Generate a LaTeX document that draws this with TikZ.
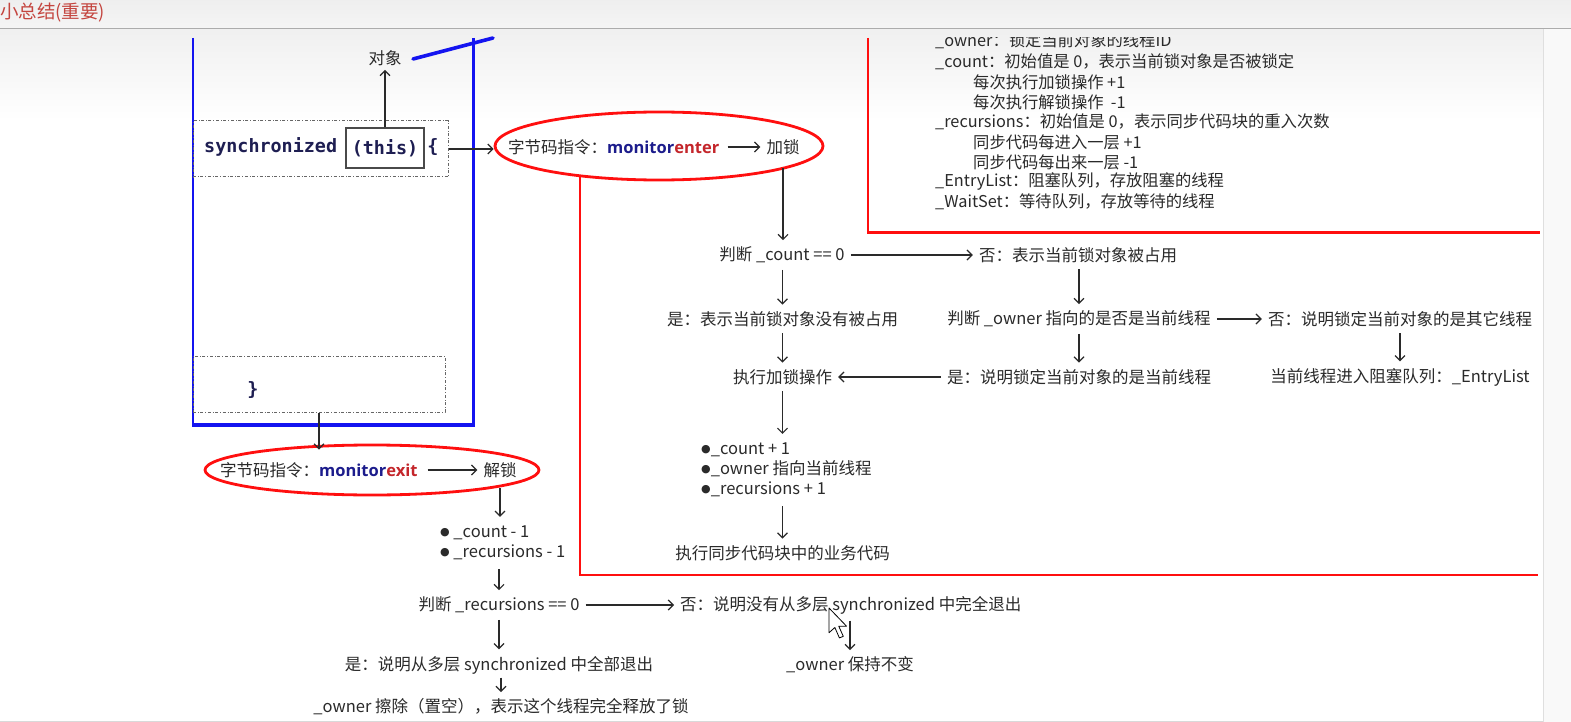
\documentclass[tikz,border=0pt]{standalone}
\usepackage{fontspec}
\setmainfont{Noto Sans CJK SC}
\newfontfamily\codefont{DejaVu Sans Mono}
\newfontfamily\latinbold{Open Sans}
\newfontfamily\dejavu{DejaVu Sans}
\newcommand\bdot{\raisebox{2.2pt}{\dejavu\fontsize{11}{11}\selectfont ●}}
\usetikzlibrary{arrows.meta,shapes.geometric}
\definecolor{txt}{HTML}{2A2A2A}
\definecolor{redl}{HTML}{FF0F0F}
\definecolor{bluel}{HTML}{1414F0}
\definecolor{navy}{HTML}{1C1C8C}
\definecolor{ered}{HTML}{C4262B}
\definecolor{codec}{HTML}{1E1E52}
\definecolor{titlec}{HTML}{C4453F}
\begin{document}
\begin{tikzpicture}[x=1pt,y=-1pt,
 lbl/.style={inner xsep=6pt, inner ysep=6.5pt, text=txt, font=\fontsize{16.5}{19.5}\selectfont},
 memo/.style={inner sep=0pt, anchor=west, text=txt, font=\fontsize{16.3}{19}\selectfont},
 bul/.style={inner xsep=0pt, inner ysep=9pt, anchor=west, align=left, text=txt, font=\fontsize{16.5}{19.8}\selectfont},
 arr/.style={draw=txt, line width=1.2pt, -{Straight Barb[length=5pt,width=10pt]}},
 redstroke/.style={draw=redl, line width=2.8pt},
 bluestroke/.style={draw=bluel, line width=3.6pt},
 codebox/.style={draw=black!60, dash dot, line width=1pt, inner sep=0pt},
 codetxt/.style={inner sep=0pt, text=codec, font=\codefont\bfseries\fontsize{18.4}{20}\selectfont},
 redell/.style={ellipse, draw=redl, line width=2.8pt, inner sep=0pt}
]
\useasboundingbox (0,0) rectangle (1571,722);
% window background
\fill[white] (0,0) rectangle (1571,722);
\shade[top color=gray!13, bottom color=gray!8] (0,0) rectangle (1571,28);
\draw[gray!65, line width=1.5pt] (0,28.5) -- (1571,28.5);
\shade[top color=gray!12, bottom color=white] (0,29.3) rectangle (1543,120);
\fill[gray!5] (1544,29.3) rectangle (1571,722);
\draw[gray!25, line width=1.5pt] (1543.5,29.3) -- (1543.5,722);
\draw[gray!30, line width=1pt] (0,721.5) -- (1543,721.5);
\node[anchor=west, inner sep=0pt, text=titlec, font=\fontsize{18.5}{20}\selectfont] (title) at (0,13) {小总结(重要)};

% blue frame
\draw[draw=bluel, line width=2pt] (193,38) -- (193,425);
\draw[bluestroke] (473.5,38) -- (473.5,425) -- (192,425);
\draw[bluestroke, line cap=round] (413,59) -- (493,38);

% code blocks
\node[codebox, minimum width=255pt, minimum height=56pt] (blk1) at (320.5,149) {};
\node[codebox, minimum width=252pt, minimum height=56pt] (blk2) at (319,384) {};
\node[codetxt, anchor=west] (sync) at (204,147) {synchronized};
\node[codetxt, draw=txt!85, line width=1.1pt, minimum width=78pt, minimum height=40pt] (this) at (385,148) {(this)};
\node[codetxt] (brace) at (433,147) {\{};
\node[codetxt] (closebr) at (253,390) {\}};
\node[lbl, inner ysep=4pt] (obj) at (385,58) {对象};

% top-right notes
\begin{scope}
\clip (0,38) rectangle (1543,722);
\node[memo] (n1) at (935,41) {\_owner：锁定当前对象的线程ID};
\end{scope}
\node[memo] (n2) at (935,62) {\_count：初始值是 0，表示当前锁对象是否被锁定};
\node[memo] (n3) at (973,82) {每次执行加锁操作 +1};
\node[memo] (n4) at (973,102) {每次执行解锁操作 \ -1};
\node[memo] (n5) at (935,122) {\_recursions：初始值是 0，表示同步代码块的重入次数};
\node[memo] (n6) at (973,142) {同步代码每进入一层 +1};
\node[memo] (n7) at (973,162) {同步代码每出来一层 -1};
\node[memo] (n8) at (935,182) {\_EntryList：阻塞队列，存放阻塞的线程};
\node[memo] (n9) at (935,202) {\_WaitSet：等待队列，存放等待的线程};

% red marks
\node[redell, minimum width=328pt, minimum height=68pt] (e1) at (659,146) {};
\draw[redstroke] (580,176) -- (580,575) -- (1538,575);
\draw[redstroke] (868,38) -- (868,232.5) -- (1540,232.5);
\node[redell, minimum width=334pt, minimum height=50pt] (e2) at (372,470) {};

% monitorenter
\node[lbl, anchor=west, inner xsep=0pt] (mi1) at (508,147) {字节码指令：{\latinbold\bfseries\color{navy}monitor\color{ered}enter}};
\node[lbl] (lock) at (783,147) {加锁};
% flow right
\node[lbl] (cnt) at (782,255) {判断 \_count == 0};
\node[lbl] (cntno) at (1078,255) {否：表示当前锁对象被占用};
\node[lbl] (cntyes) at (782.5,319) {是：表示当前锁对象没有被占用};
\node[lbl] (own) at (1079,319) {判断 \_owner 指向的是否是当前线程};
\node[lbl] (ownno) at (1400,319) {否：说明锁定当前对象的是其它线程};
\node[lbl] (ownyes) at (1079,377) {是：说明锁定当前对象的是当前线程};
\node[lbl] (entry) at (1400,377) {当前线程进入阻塞队列：\_EntryList};
\node[lbl] (dolock) at (782.5,377) {执行加锁操作};
\node[bul] (bul1) at (701,470) {\bdot\_count + 1\\\bdot\_owner 指向当前线程\\\bdot\_recursions + 1};
\node[lbl] (biz) at (782.5,553) {执行同步代码块中的业务代码};

% monitorexit
\node[lbl, anchor=west, inner xsep=0pt] (mx) at (220,470) {字节码指令：{\latinbold\bfseries\color{navy}monitor\color{ered}exit}};
\node[lbl] (unlock) at (500,470) {解锁};
\node[bul] (bul2) at (440,543) {\bdot\ \_count - 1\\\bdot\ \_recursions - 1};
\node[lbl] (rec) at (499,605) {判断 \_recursions == 0};
\node[lbl, anchor=west] (recno) at (674,605) {否：说明没有从多层 synchronized 中完全退出};
\node[lbl] (recyes) at (499,665) {是：说明从多层 synchronized 中全部退出};
\node[lbl] (keep) at (850,665) {\_owner 保持不变};
\node[lbl] (clr) at (501,707) {\_owner 擦除（置空），表示这个线程完全释放了锁};

% connectors
\draw[arr] (this.north) -- (obj.south);
\draw[arr] (blk1.east) -- (blk1.east -| e1.west);
\draw[arr, shorten <=8pt] (mi1.east) -- (lock.west);
\draw[arr, shorten <=7pt] (lock.south) -- (lock.south |- cnt.north);
\draw[arr] (cnt) -- (cntno);
\draw[arr] (cnt.south -| cntyes) -- (cntyes.north);
\draw[arr] (cntno.south -| own) -- (own.north);
\draw[arr] (own) -- (ownno);
\draw[arr] (own.south) -- (ownyes.north);
\draw[arr] (ownno.south -| entry) -- (entry.north);
\draw[arr] (ownyes) -- (dolock);
\draw[arr] (cntyes.south -| dolock) -- (dolock.north);
\draw[arr] (dolock.south) -- (dolock.south |- bul1.north);
\draw[arr] (bul1.south -| biz) -- (biz.north);
\draw[arr, shorten >=-6pt] (blk2.south) -- (blk2.south |- e2.north);
\draw[arr, shorten <=10pt] (mx.east) -- (unlock.west);
\draw[arr, shorten <=4pt] (unlock.south) -- (unlock.south |- bul2.north);
\draw[arr] (bul2.south -| rec) -- (rec.north);
\draw[arr] (rec) -- (recno);
\draw[arr] (rec.south) -- (recyes.north);
\draw[arr] (recno.south -| keep) -- (keep.north);
\draw[arr, shorten <=-3pt] (recyes.south -| clr) -- (clr.north);

% mouse pointer
\draw[fill=white, draw=black, line width=0.8pt, line join=round, shift={(829,608)}, scale=1.3]
  (0,0) -- (0,19) -- (4.5,15) -- (8,23) -- (11,21.8) -- (7.5,14) -- (13.5,14) -- cycle;
\end{tikzpicture}
\end{document}
